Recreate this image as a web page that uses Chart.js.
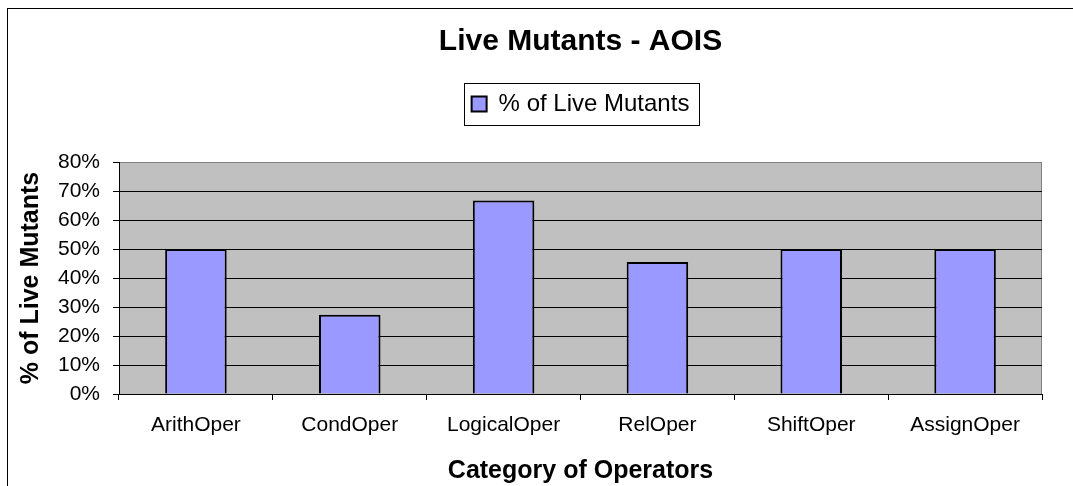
<!DOCTYPE html>
<html>
<head>
<meta charset="utf-8">
<script src="https://cdn.jsdelivr.net/npm/chart.js@4"></script>
<style>
  html, body { margin: 0; padding: 0; background: #fff; }
  #wrap { width: 1073px; height: 486px; }
</style>
</head>
<body>
<div id="wrap"><canvas id="chart"></canvas></div>
<script>
const categories = ['ArithOper', 'CondOper', 'LogicalOper', 'RelOper', 'ShiftOper', 'AssignOper']
const liveMutants = [50, 27.3, 66.7, 45.5, 50, 50]
const seriesLabel = '% of Live Mutants'
const yTicks = [0, 10, 20, 30, 40, 50, 60, 70, 80]

Chart.defaults.font.family = "'Liberation Sans', Arial, sans-serif"
Chart.defaults.color = '#000'

// gray plot background + gray border on top/right
const plotBackground = {
    id: 'plotBackground',
    beforeDraw: function (chart) {
        const a = chart.chartArea
        const ctx = chart.ctx
        ctx.save()
        ctx.fillStyle = '#c0c0c0'
        ctx.fillRect(a.left, a.top, a.right - a.left, a.bottom - a.top)
        ctx.strokeStyle = '#808080'
        ctx.lineWidth = 1
        ctx.beginPath()
        ctx.moveTo(a.left, Math.round(a.top) + 0.5)
        ctx.lineTo(Math.round(a.right) - 0.5, Math.round(a.top) + 0.5)
        ctx.lineTo(Math.round(a.right) - 0.5, a.bottom)
        ctx.stroke()
        ctx.restore()
    }
}

// extra space below the legend
const legendSpacer = {
    id: 'legendSpacer',
    beforeInit: function (chart) {
        const fit = chart.legend.fit
        chart.legend.fit = function () {
            fit.bind(chart.legend)()
            this.height += 36
        }
    }
}

// box around the legend and outer frame
const frames = {
    id: 'frames',
    afterDraw: function (chart) {
        const ctx = chart.ctx
        ctx.save()
        ctx.strokeStyle = '#000'
        ctx.lineWidth = 1
        ctx.strokeRect(7.5, 8.5, 3000, 3000)
        const hb = chart.legend.legendHitBoxes[0]
        if (hb) {
            const cy = hb.top + hb.height / 2
            const x = Math.round(hb.left - 8) + 0.5
            const y = Math.round(cy - 21) + 0.5
            const w = Math.round(hb.width + 17)
            ctx.strokeRect(x, y, w, 42)
        }
        ctx.restore()
    }
}

const ctx = document.getElementById('chart')
const chart = new Chart(ctx, {
    type: 'bar',
    data: {
        labels: categories,
        datasets: [
            {
                label: seriesLabel,
                data: liveMutants,
                backgroundColor: '#9999ff',
                borderColor: '#000',
                borderWidth: 2,
                categoryPercentage: 1,
                barPercentage: 0.4
            }
        ]
    },
    options: {
        responsive: true,
        maintainAspectRatio: false,
        animation: false,
        layout: {
            padding: { left: 8, right: 31, top: 0, bottom: 0 }
        },
        plugins: {
            title: {
                display: true,
                text: 'Live Mutants - AOIS',
                fullSize: false,
                color: '#000',
                font: { size: 30, weight: 'bold' },
                padding: { top: 24, bottom: 22 }
            },
            legend: {
                display: true,
                position: 'top',
                fullSize: false,
                labels: {
                    font: { size: 24 },
                    boxWidth: 15,
                    boxHeight: 15,
                    padding: 10,
                    color: '#000'
                }
            },
            tooltip: { enabled: false }
        },
        scales: {
            x: {
                grid: {
                    display: true,
                    drawOnChartArea: false,
                    drawTicks: true,
                    tickLength: 6,
                    color: '#000',
                    offset: true
                },
                border: { color: '#000', width: 1 },
                ticks: {
                    font: { size: 21 },
                    padding: 13,
                    maxRotation: 0
                },
                title: {
                    display: true,
                    text: 'Category of Operators',
                    font: { size: 25, weight: 'bold' },
                    padding: { top: 4, bottom: 0 }
                },
                afterFit: function (scale) {
                    scale.height = 92
                }
            },
            y: {
                min: 0,
                max: 80,
                afterBuildTicks: function (scale) {
                    scale.ticks = yTicks.map(v => ({ value: v }))
                },
                grid: {
                    color: function (c) {
                        return c.tick && c.tick.value === 80 ? '#808080' : '#000'
                    },
                    tickColor: '#000',
                    tickLength: 6,
                    lineWidth: 1
                },
                border: { color: '#000', width: 1 },
                ticks: {
                    font: { size: 21 },
                    padding: 13,
                    callback: function (v) { return v + '%' }
                },
                title: {
                    display: true,
                    text: '% of Live Mutants',
                    font: { size: 25, weight: 'bold' },
                    padding: { top: 8, bottom: 0 }
                },
                afterFit: function (scale) {
                    scale.width = 111
                }
            }
        }
    },
    plugins: [plotBackground, legendSpacer, frames]
})
</script>
</body>
</html>
